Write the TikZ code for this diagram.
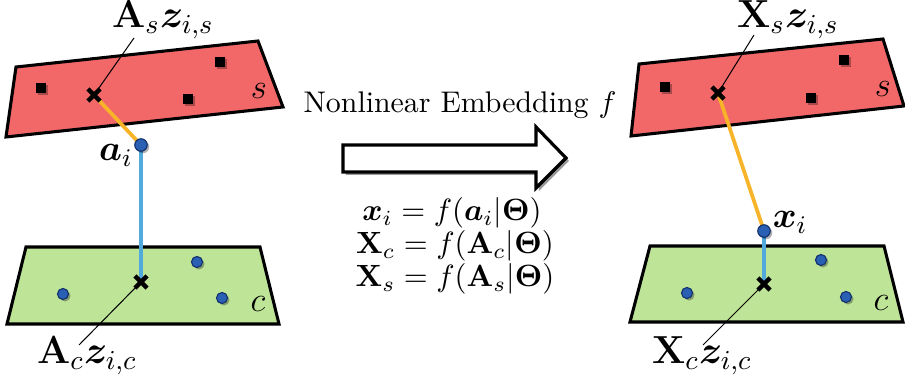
\RequirePackage{fix-cm}
\documentclass[tikz,border=0pt]{standalone}
\usepackage{amsmath,bm}
\usetikzlibrary{shapes.misc,shadows}
\definecolor{redfill}{RGB}{242,104,104}
\definecolor{greenfill}{RGB}{190,228,152}
\definecolor{orangeline}{RGB}{247,180,40}
\definecolor{blueline}{RGB}{80,170,220}
\definecolor{dotblue}{RGB}{42,96,180}
\definecolor{dotedge}{RGB}{20,50,110}
\pgfdeclarelayer{planes}
\pgfdeclarelayer{lines}
\pgfsetlayers{planes,lines,main}
\tikzset{
  plane/.style={draw=black, line width=1.05pt, line join=miter},
  sq/.style={rectangle, fill=black, minimum size=3.5pt, inner sep=0pt,
    drop shadow={shadow xshift=0.7pt, shadow yshift=-0.7pt, opacity=0.3, fill=black}},
  dot/.style={circle, fill=dotblue, draw=dotedge, line width=0.4pt, minimum size=3.8pt, inner sep=0pt,
    drop shadow={shadow xshift=0.7pt, shadow yshift=-0.7pt, opacity=0.3, fill=black}},
  bigdot/.style={dot, minimum size=4.3pt},
  xmark/.style={cross out, draw=black, line width=1.5pt, minimum size=2.7pt, inner sep=0pt},
  orangelink/.style={draw=orangeline, line width=1.3pt},
  bluelink/.style={draw=blueline, line width=1.3pt},
  leader/.style={draw=black, line width=0.35pt},
  lbl/.style={inner sep=0pt, anchor=base, font=\fontsize{13.5}{16}\selectfont},
  small lbl/.style={inner sep=0pt, anchor=base, font=\fontsize{12.5}{15}\selectfont},
  plbl/.style={inner sep=0pt, anchor=base, font=\large},
  eqn/.style={inner sep=0pt, anchor=base, font=\fontsize{10.6}{12}\selectfont},
}
\begin{document}
\begin{tikzpicture}[x=0.345pt,y=-0.345pt]
\useasboundingbox (0,0) rectangle (905,378);
% ---------- planes ----------
\begin{pgfonlayer}{planes}
\draw[plane, fill=redfill] (16,67) -- (258,41) -- (283,107) -- (6,137) -- cycle;
\draw[plane, fill=greenfill] (26,247) -- (260,247) -- (279,324) -- (7,324) -- cycle;
\draw[plane, fill=redfill] (639,64) -- (883,39) -- (904,106) -- (631,136) -- cycle;
\draw[plane, fill=greenfill] (650,246) -- (884,246) -- (903,322) -- (630,322) -- cycle;
\end{pgfonlayer}
% left red plane points
\node[sq] (ls1) at (41,88) {};
\node[sq] (ls2) at (220,62) {};
\node[sq] (ls3) at (188,99) {};
\node[xmark] (lxs) at (94,95) {};
\node[plbl] (lsl) at (259,99) {$s$};
% left green plane points
\node[dot] (lc1) at (63,294) {};
\node[dot] (lc2) at (197,262) {};
\node[dot] (lc3) at (222,298) {};
\node[xmark] (lxc) at (141,282) {};
\node[plbl] (lcl) at (258,312) {$c$};
% a_i
\node[bigdot] (ai) at (141,145) {};
\node[small lbl] (ail) at (116,161) {$\boldsymbol{a}_i$};
% labels
\node[lbl] (AsL) at (163,28) {$\mathbf{A}_s\boldsymbol{z}_{i,s}$};
\coordinate (AsLend) at (134,38);
\node[lbl] (AcL) at (87,364) {$\mathbf{A}_c\boldsymbol{z}_{i,c}$};
\coordinate (AcLend) at (79,345);
% ---------- right ----------
\node[sq] (rs1) at (665,87) {};
\node[sq] (rs2) at (844,60) {};
\node[sq] (rs3) at (811,98) {};
\node[xmark] (rxs) at (718,93) {};
\node[plbl] (rsl) at (883,97) {$s$};
\node[dot] (rc1) at (687,293) {};
\node[dot] (rc2) at (821,260) {};
\node[dot] (rc3) at (846,297) {};
\node[xmark] (rxc) at (764,284) {};
\node[plbl] (rcl) at (881,311) {$c$};
\node[bigdot] (xi) at (764,231) {};
\node[small lbl] (xil) at (790,228) {$\boldsymbol{x}_i$};
\node[lbl] (XsL) at (788,28) {$\mathbf{X}_s\boldsymbol{z}_{i,s}$};
\coordinate (XsLend) at (754,35);
\node[lbl] (XcL) at (702,364) {$\mathbf{X}_c\boldsymbol{z}_{i,c}$};
\coordinate (XcLend) at (703,345);
% ---------- connectors ----------
\begin{pgfonlayer}{lines}
\draw[orangelink] (lxs.center) -- (ai.center);
\draw[bluelink] (ai.center) -- (lxc.center);
\draw[orangelink] (rxs.center) -- (xi.center);
\draw[bluelink] (xi.center) -- (rxc.center);
\draw[leader] (AsLend) -- (lxs.center);
\draw[leader] (AcLend) -- (lxc.center);
\draw[leader] (XsLend) -- (rxs.center);
\draw[leader] (XcLend) -- (rxc.center);
\end{pgfonlayer}
% ---------- middle ----------
\node[inner sep=0pt, anchor=base, font=\fontsize{10.3}{12}\selectfont] (title) at (460,113) {Nonlinear Embedding $f$};
\draw[line width=1.1pt, line join=miter, fill=white,
  drop shadow={shadow xshift=1pt, shadow yshift=-1pt, opacity=0.4, fill=black}]
  (343,145) -- (536,145) -- (536,127) -- (566,158) -- (536,188) -- (536,172) -- (343,172) -- cycle;
\node[eqn] (eq1) at (452,221) {$\boldsymbol{x}_i = f(\boldsymbol{a}_i|\bm{\Theta})$};
\node[eqn] (eq2) at (455,254) {$\mathbf{X}_c = f(\mathbf{A}_c|\bm{\Theta})$};
\node[eqn] (eq3) at (455,287) {$\mathbf{X}_s = f(\mathbf{A}_s|\bm{\Theta})$};
\end{tikzpicture}
\end{document}
